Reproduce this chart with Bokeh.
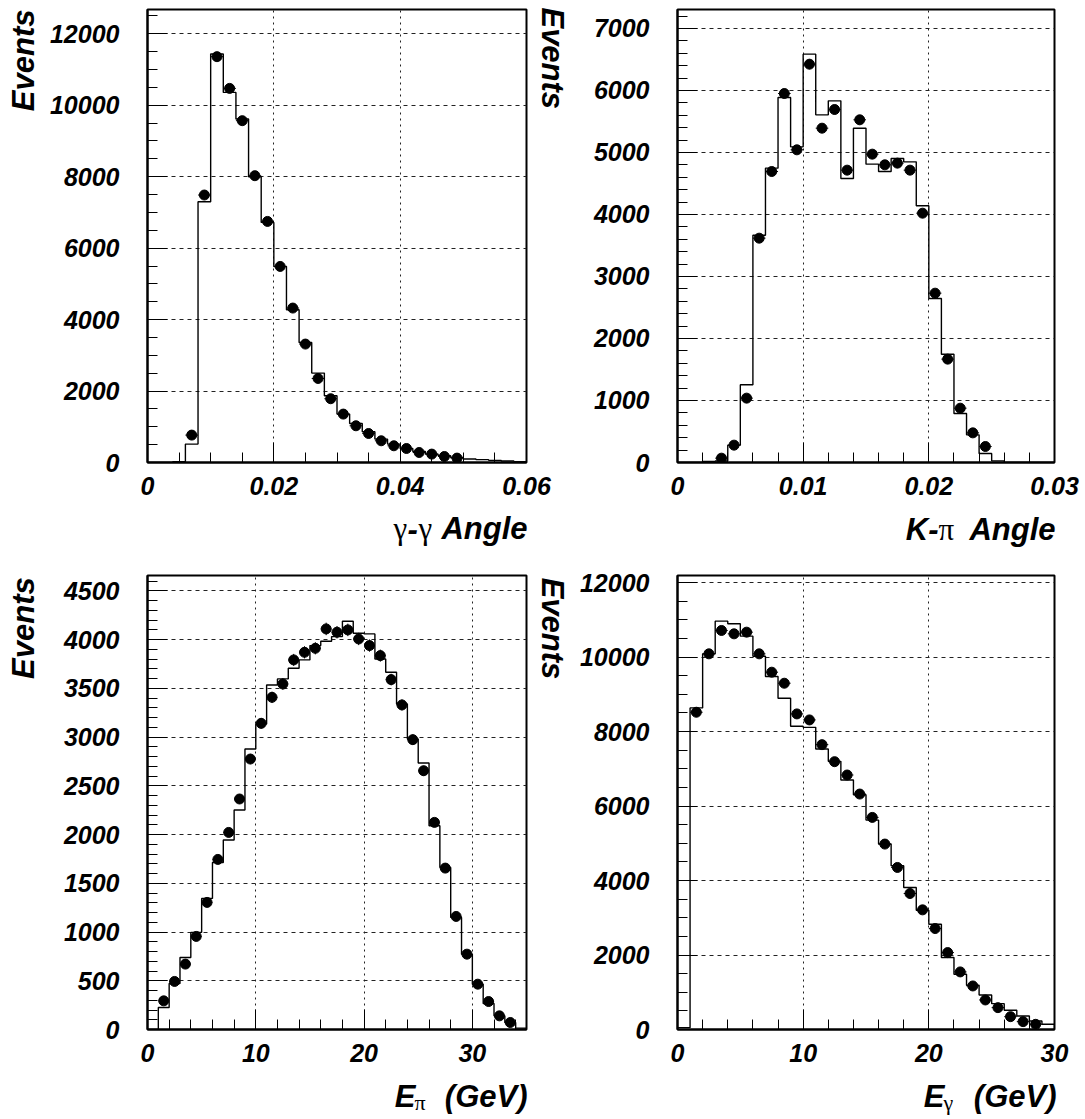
import math
import numpy as np
from bokeh.plotting import figure
from bokeh.models import (Range1d, SingleIntervalTicker, FixedTicker, PrintfTickFormatter,
                          CustomJSTickFormatter, ColumnDataSource, LinearAxis)
from bokeh.core.properties import value
from bokeh.layouts import row, column
from bokeh.embed import file_html
from bokeh.resources import INLINE

SANS = "Liberation Sans"
SERIF = "Liberation Serif"

# ---------------- data ----------------
gg_bin = 0.002
gg_mc = [0, 0, 20, 515, 7300, 11435, 10360, 9615, 8000, 6720, 5488, 4276, 3360, 2503, 1868,
         1355, 1092, 860, 655, 515, 392, 308, 235, 190, 140, 98, 80, 60, 40, 25]
gg_data_first = 0.007
gg_data = [767, 7487, 11360, 10472, 9568, 8028, 6748, 5488, 4323, 3315, 2352, 1785, 1355,
           1028, 812, 608, 468, 392, 280, 235, 168, 123]

kp_bin = 0.001
kp_mc = [0, 0, 15, 25, 280, 1253, 3666, 4747, 5887, 5091, 6586, 5607, 5833, 4580, 5392,
         4812, 4693, 4903, 4849, 4140, 2645, 1747, 790, 446, 145, 27, 0, 0, 0, 0]
kp_data_first = 0.0035
kp_data = [70, 280, 1038, 3618, 4693, 5951, 5043, 6424, 5392, 5693, 4715, 5527, 4973, 4801,
           4828, 4715, 4021, 2731, 1667, 876, 478, 258]

ep_bin = 1.0
ep_mc = [0, 226, 472, 739, 996, 1345, 1714, 1944, 2252, 2878, 3135, 3535, 3597, 3706, 3792,
         3939, 3983, 4031, 4189, 4065, 4059, 3802, 3665, 3340, 2981, 2734, 2091, 1663, 1150,
         773, 465, 267, 140, 72, 14]
ep_data_first = 1.5
ep_data = [294, 493, 671, 955, 1304, 1745, 2022, 2365, 2775, 3141, 3408, 3545, 3792, 3870,
           3911, 4110, 4076, 4100, 4007, 3939, 3836, 3590, 3330, 2974, 2655, 2125, 1656, 1160,
           773, 465, 287, 140, 72]

eg_bin = 1.0
eg_mc = [50, 8633, 10085, 10963, 10891, 10560, 10022, 9475, 8893, 8140, 8112, 7530, 7199,
         6697, 6303, 5622, 4978, 4395, 3813, 3203, 2827, 1931, 1483, 1187, 927, 694, 515,
         363, 228, 139]
eg_data_first = 1.5
eg_data = [8517, 10085, 10712, 10622, 10667, 10085, 9592, 9296, 8472, 8311, 7647, 7190, 6832,
           6321, 5694, 4978, 4350, 3651, 3212, 2710, 2065, 1546, 1169, 793, 587, 345, 211, 139]

y_title = "Events"

TICK_FS = "25px"
TITLE_FS = "31px"


def make_panel(mc, binw, data, first, xmax, ymax, xint, xminor, yint, yminor,
               fw, fh, bl, br, bt, bb):
    p = figure(output_backend="svg", toolbar_location=None,
               frame_width=fw, frame_height=fh,
               min_border_left=bl, min_border_right=br,
               min_border_top=bt, min_border_bottom=bb,
               x_range=Range1d(0, xmax), y_range=Range1d(0, ymax))
    p.background_fill_color = "white"
    p.border_fill_color = "white"
    p.outline_line_color = "black"
    p.outline_line_width = 2

    n = len(mc)
    edges = np.arange(n + 1) * binw
    xs = np.concatenate([[edges[0]], edges])
    ys = np.concatenate([[0], mc, [0]])
    p.step(xs, ys, mode="after", line_color="black", line_width=1.4)

    xc = first + np.arange(len(data)) * binw
    d = np.array(data, dtype=float)
    src = ColumnDataSource(dict(x=xc, y=d, x0=xc - binw / 2, x1=xc + binw / 2,
                                y0=d - np.sqrt(d), y1=d + np.sqrt(d)))
    p.segment(x0="x0", x1="x1", y0="y", y1="y", source=src, line_color="black", line_width=1)
    p.segment(x0="x", x1="x", y0="y0", y1="y1", source=src, line_color="black", line_width=1)
    p.scatter("x", "y", source=src, size=10, color="black")

    for ax in (p.xaxis[0], p.yaxis[0]):
        ax.axis_line_width = 2
        ax.axis_line_color = "black"
        ax.major_tick_in = 20
        ax.major_tick_out = 0
        ax.minor_tick_in = 10
        ax.minor_tick_out = 0
        ax.major_tick_line_color = "black"
        ax.minor_tick_line_color = "black"
        ax.major_label_text_font = SANS
        ax.major_label_text_font_style = "bold italic"
        ax.major_label_text_font_size = TICK_FS
        ax.major_label_text_color = "black"
    p.xaxis.ticker = SingleIntervalTicker(interval=xint, num_minor_ticks=xminor)
    p.yaxis.ticker = SingleIntervalTicker(interval=yint, num_minor_ticks=yminor)
    p.xaxis.formatter = PrintfTickFormatter(format="%g")
    p.xaxis.major_label_standoff = 14
    p.yaxis.major_label_standoff = 28

    p.xgrid.grid_line_color = "#222222"
    p.xgrid.grid_line_dash = "2 4"
    p.xgrid.grid_line_width = 1
    p.ygrid.grid_line_color = "#222222"
    p.ygrid.grid_line_dash = "4 4"
    p.ygrid.grid_line_width = 1
    return p


def right_neighbour_title(p, ypos, standoff):
    # y title of the right-hand neighbour panel, drawn in this canvas' right margin
    ax = LinearAxis(ticker=FixedTicker(ticks=[ypos]),
                    formatter=CustomJSTickFormatter(code="return '%s'" % y_title),
                    major_label_orientation="vertical", major_label_standoff=standoff,
                    major_tick_in=0, major_tick_out=0, minor_tick_in=0, minor_tick_out=0,
                    axis_line_color=None, major_tick_line_color=None, minor_tick_line_color=None,
                    major_label_text_font=SANS, major_label_text_font_style="bold italic",
                    major_label_text_font_size=TITLE_FS, major_label_text_color="black")
    p.add_layout(ax, "right")


def blank(width, height, flip=True):
    f = figure(output_backend="svg", toolbar_location=None, width=width, height=height,
               x_range=Range1d(0, width),
               y_range=Range1d(height, 0) if flip else Range1d(0, height),
               x_axis_location=None, y_axis_location=None, min_border=0)
    f.outline_line_color = None
    f.xgrid.visible = False
    f.ygrid.visible = False
    return f


def label_row(width, height, pieces):
    f = blank(width, height)
    for text, x, y, font, style, size, align in pieces:
        f.text(x=[x], y=[y], text=[text], text_font=value(font), text_font_style=style,
               text_font_size=size, text_align=align, text_baseline="alphabetic",
               text_color="black")
    return f


def y_title_col(width, height, x_base, y_top):
    f = blank(width, height, flip=False)
    f.text(x=[x_base], y=[height - y_top], text=[y_title], angle=math.pi / 2,
           text_font=value(SANS), text_font_style="bold italic", text_font_size=TITLE_FS,
           text_align="right", text_baseline="alphabetic", text_color="black")
    return f


EVW = 40                   # width of the left title strip
LW, RW = 576, 506          # column widths (incl. strip on the left)
TOP_H, BOT_H = 506, 506    # panel canvas heights
LAB1_H, LAB2_H = 61, 46    # title-row heights
RBL = 101                  # right column left border
LBR = LW - EVW - 107 - 379  # left panel right border
RBR = RW - RBL - 377

p1 = make_panel(gg_mc, gg_bin, gg_data, gg_data_first, 0.06, 12680, 0.02, 4, 2000, 4,
                379, 453, 107, LBR, 9, 44)
p2 = make_panel(kp_mc, kp_bin, kp_data, kp_data_first, 0.03, 7306, 0.01, 5, 1000, 5,
                377, 453, RBL, RBR, 9, 44)
p3 = make_panel(ep_mc, ep_bin, ep_data, ep_data_first, 35, 4658, 10, 5, 500, 5,
                379, 454, 107, LBR, 8, 44)
p4 = make_panel(eg_mc, eg_bin, eg_data, eg_data_first, 30, 12188, 10, 5, 2000, 4,
                377, 454, RBL, RBR, 8, 44)

right_neighbour_title(p1, 11314, 8)
right_neighbour_title(p3, 4114, 8)

ev1 = y_title_col(EVW, TOP_H, 23, 0)
ev3 = y_title_col(EVW, BOT_H, 23, 2)

l1 = label_row(LW, LAB1_H, [
    ("γ", 393, 22, SERIF, "normal", TITLE_FS, "left"),
    ("-", 407, 22, SANS, "bold italic", TITLE_FS, "left"),
    ("γ", 418, 22, SERIF, "normal", TITLE_FS, "left"),
    ("Angle", 527, 22, SANS, "bold italic", TITLE_FS, "right"),
])
l2 = label_row(RW, LAB1_H, [
    ("K-", 362, 23, SANS, "bold italic", TITLE_FS, "right"),
    ("π", 362, 23, SERIF, "normal", TITLE_FS, "left"),
    ("Angle", 479, 23, SANS, "bold italic", TITLE_FS, "right"),
])
l3 = label_row(LW, LAB2_H, [
    ("E", 415, 23, SANS, "bold italic", TITLE_FS, "right"),
    ("π", 414, 29, SERIF, "normal", "22px", "left"),
    ("(GeV)", 527, 23, SANS, "bold italic", TITLE_FS, "right"),
])
l4 = label_row(RW, LAB2_H, [
    ("E", 368, 23, SANS, "bold italic", TITLE_FS, "right"),
    ("γ", 367, 29, SERIF, "normal", "22px", "left"),
    ("(GeV)", 480, 23, SANS, "bold italic", TITLE_FS, "right"),
])

layout = column(row(ev1, p1, p2), row(l1, l2), row(ev3, p3, p4), row(l3, l4))
open("out.html", "w").write(file_html(layout, INLINE))
